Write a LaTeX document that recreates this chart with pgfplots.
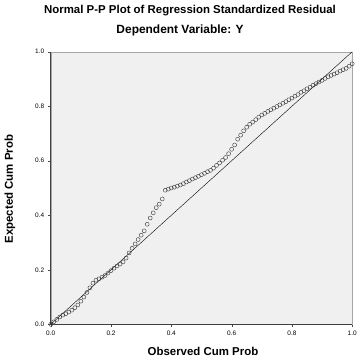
\documentclass[border=0pt]{standalone}
\usepackage{fontspec}
\setmainfont{Liberation Sans}
\usepackage{pgfplots}
\pgfplotsset{compat=1.18}
\begin{document}
\begin{tikzpicture}
\path (-51pt,-34pt) rectangle (306pt,326pt);
\begin{axis}[
  scale only axis,
  width=303pt, height=274pt,
  xmin=0, xmax=1, ymin=0, ymax=1,
  axis background/.style={fill=black!6},
  axis line style={draw=black!35},
  xtick={0,0.2,0.4,0.6,0.8,1},
  ytick={0,0.2,0.4,0.6,0.8,1},
  tick align=outside,
  tick pos=left,
  major tick length=3pt,
  tick style={black!70},
  /pgf/number format/assume math mode=true,
  xticklabel style={font=\fontsize{6.5}{7}\selectfont},
  yticklabel style={font=\fontsize{6.5}{7}\selectfont},
  xticklabel={\pgfmathprintnumber[fixed,fixed zerofill,precision=1]{\tick}},
  yticklabel={\pgfmathprintnumber[fixed,fixed zerofill,precision=1]{\tick}},
  clip=false,
]
\draw[black!75, line width=0.8pt] (axis cs:0,0) -- (axis cs:0,1);
\draw[black!75, line width=0.8pt] (axis cs:0,0) -- (axis cs:1,0);
\addplot[black, thin] coordinates {(0,0) (1,1)};
\addplot[only marks, mark=o, mark size=2pt, black!80, mark options={line width=0.4pt}] coordinates {
(0.00,0.000)(0.01,0.009)(0.02,0.018)(0.03,0.027)(0.04,0.034)(0.05,0.039)(0.06,0.045)(0.07,0.052)(0.08,0.061)(0.09,0.071)
(0.10,0.085)(0.11,0.100)(0.12,0.117)(0.13,0.134)(0.14,0.151)(0.15,0.162)(0.16,0.167)(0.17,0.173)(0.18,0.179)(0.19,0.188)
(0.20,0.197)(0.21,0.206)(0.22,0.214)(0.23,0.221)(0.24,0.229)(0.25,0.243)(0.26,0.262)(0.27,0.279)(0.28,0.295)(0.29,0.311)
(0.30,0.327)(0.31,0.343)(0.32,0.367)(0.33,0.390)(0.34,0.409)(0.35,0.428)(0.36,0.441)(0.37,0.460)(0.38,0.492)(0.39,0.496)
(0.40,0.500)(0.41,0.503)(0.42,0.507)(0.43,0.511)(0.44,0.516)(0.45,0.522)(0.46,0.527)(0.47,0.533)(0.48,0.538)(0.49,0.543)
(0.50,0.549)(0.51,0.554)(0.52,0.560)(0.53,0.565)(0.54,0.573)(0.55,0.583)(0.56,0.592)(0.57,0.602)(0.58,0.612)(0.59,0.626)
(0.60,0.642)(0.61,0.658)(0.62,0.679)(0.63,0.694)(0.64,0.710)(0.65,0.723)(0.66,0.734)(0.67,0.742)(0.68,0.751)(0.69,0.760)
(0.70,0.768)(0.71,0.774)(0.72,0.781)(0.73,0.787)(0.74,0.793)(0.75,0.799)(0.76,0.805)(0.77,0.811)(0.78,0.817)(0.79,0.824)
(0.80,0.830)(0.81,0.837)(0.82,0.843)(0.83,0.851)(0.84,0.857)(0.85,0.864)(0.86,0.870)(0.87,0.877)(0.88,0.883)(0.89,0.889)
(0.90,0.895)(0.91,0.902)(0.92,0.908)(0.93,0.913)(0.94,0.918)(0.95,0.923)(0.96,0.929)(0.97,0.934)(0.98,0.939)(0.99,0.947)
(1.00,0.956)
};
\end{axis}
\node[font=\bfseries\fontsize{11.5}{13}\selectfont] at (140pt,315pt) {Normal P-P Plot of Regression Standardized Residual};
\node[font=\bfseries\fontsize{12}{14}\selectfont] at (130pt,295pt) {Dependent Variable: Y};
\node[font=\bfseries\fontsize{11.5}{13}\selectfont] at (153pt,-27pt) {Observed Cum Prob};
\node[font=\bfseries\fontsize{11.5}{13}\selectfont, rotate=90] at (-41pt,136pt) {Expected Cum Prob};
\end{tikzpicture}
\end{document}
